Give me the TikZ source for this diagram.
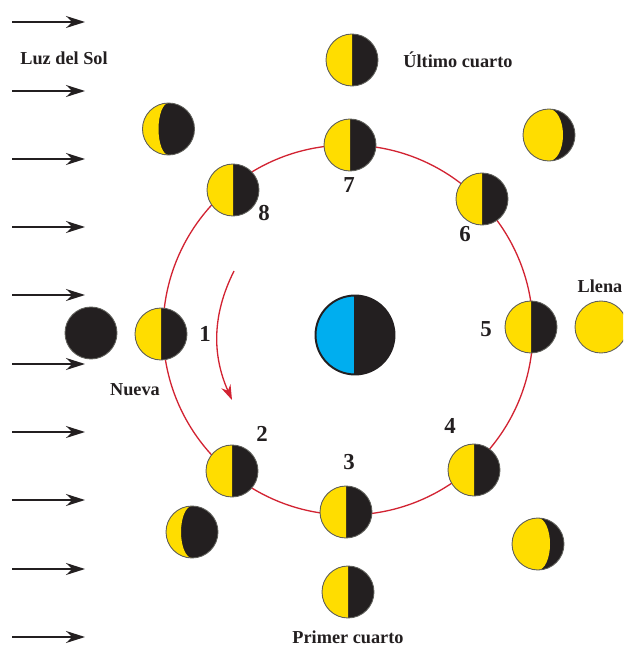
\documentclass[tikz,border=0pt]{standalone}
\usepackage{fontspec}
\setmainfont{Liberation Serif}
\usetikzlibrary{arrows.meta}
\definecolor{moonyellow}{RGB}{255,221,0}
\definecolor{moondark}{RGB}{35,31,32}
\definecolor{moonrim}{RGB}{95,95,90}
\definecolor{orbitred}{RGB}{210,35,50}
\definecolor{earthblue}{RGB}{0,174,239}
\tikzset{
  moon/.style={circle,draw=moonrim,line width=.5pt,fill=moondark,minimum size=1.04cm,inner sep=0pt},
  lit/.style 2 args={moon,path picture={
    \fill[moonyellow,shift={(path picture bounding box.center)},xscale=#1]
      (0,.52cm) arc[start angle=90,end angle=270,radius=.52cm]
      arc[start angle=-90,end angle=90,x radius=#2cm,y radius=.52cm] -- cycle;}},
  full/.style={moon,fill=moonyellow},
  earth/.style={circle,draw=moondark,line width=1.1pt,fill=moondark,minimum size=1.58cm,inner sep=0pt,path picture={
    \fill[earthblue] (path picture bounding box.south west) rectangle ([xshift=-.02cm]path picture bounding box.north);}},
  num/.style={font=\fontsize{13}{13}\selectfont\bfseries,text=moondark},
  tag/.style={font=\fontsize{10.4}{12}\selectfont\bfseries,text=moondark},
  ray/.style={-{Stealth[length=.38cm,width=.24cm]},line width=.9pt,draw=moondark},
}
\begin{document}
\begin{tikzpicture}[x=.02cm,y=-.02cm]
  \clip (0,0) rectangle (623,645);
  % rays
  \foreach \i/\y in {1/22,2/91,3/159,4/227,5/295,6/364,7/432,8/500,9/569,10/637}{
    \coordinate (raya\i) at (12,\y);
    \coordinate (rayb\i) at (85,\y);
    \draw[ray] (raya\i) -- (rayb\i);
  }
  % orbit and earth
  \node[circle,draw=orbitred,line width=.75pt,minimum size=7.4cm,inner sep=0pt] (orbit) at (348,330) {};
  \node[earth] (earth) at (355,335) {};
  % moons on the orbit
  \foreach \i/\x/\y in {1/161/334,2/232/471,3/346/512,4/474/470,5/531/327,6/482/199,7/350/145,8/233/190}{
    \node[lit={1}{.001}] (moon\i) at (\x,\y) {};
  }
  % moons as seen from earth
  \node[moon] (nueva) at (91,333) {};
  \node[lit={1}{-.2}] (creciente) at (168.5,129) {};
  \node[lit={1}{.001}] (ultimo) at (352,60) {};
  \node[lit={1}{.28}] (gibosa) at (549,135) {};
  \node[full] (llena) at (601,327) {};
  \node[lit={-1}{.24}] (gibosb) at (538,544) {};
  \node[lit={-1}{.001}] (primer) at (348,592) {};
  \node[lit={-1}{-.22}] (crecienteb) at (192,532) {};
  % direction of the orbit
  \coordinate (dira) at (234,271);
  \coordinate (dirb) at (232,400);
  \draw[orbitred,line width=.75pt,-{Stealth[length=.3cm,width=.2cm]}] (dira) .. controls (212,315) and (212,355) .. (dirb);
  % numbers
  \node[num] (n1) at (205,334) {1};
  \node[num] (n2) at (262,434) {2};
  \node[num] (n3) at (349,462) {3};
  \node[num] (n4) at (450,426) {4};
  \node[num] (n5) at (486,329) {5};
  \node[num] (n6) at (465,234) {6};
  \node[num] (n7) at (349,185) {7};
  \node[num] (n8) at (264,213) {8};
  % names
  \node[tag] (sol) at (64,58) {Luz del Sol};
  \node[tag] (nuevatxt) at (135,390) {Nueva};
  \node[tag] (ultimotxt) at (458,60) {Último cuarto};
  \node[tag] (llenatxt) at (600,286) {Llena};
  \node[tag] (primertxt) at (348,637) {Primer cuarto};
\end{tikzpicture}
\end{document}
